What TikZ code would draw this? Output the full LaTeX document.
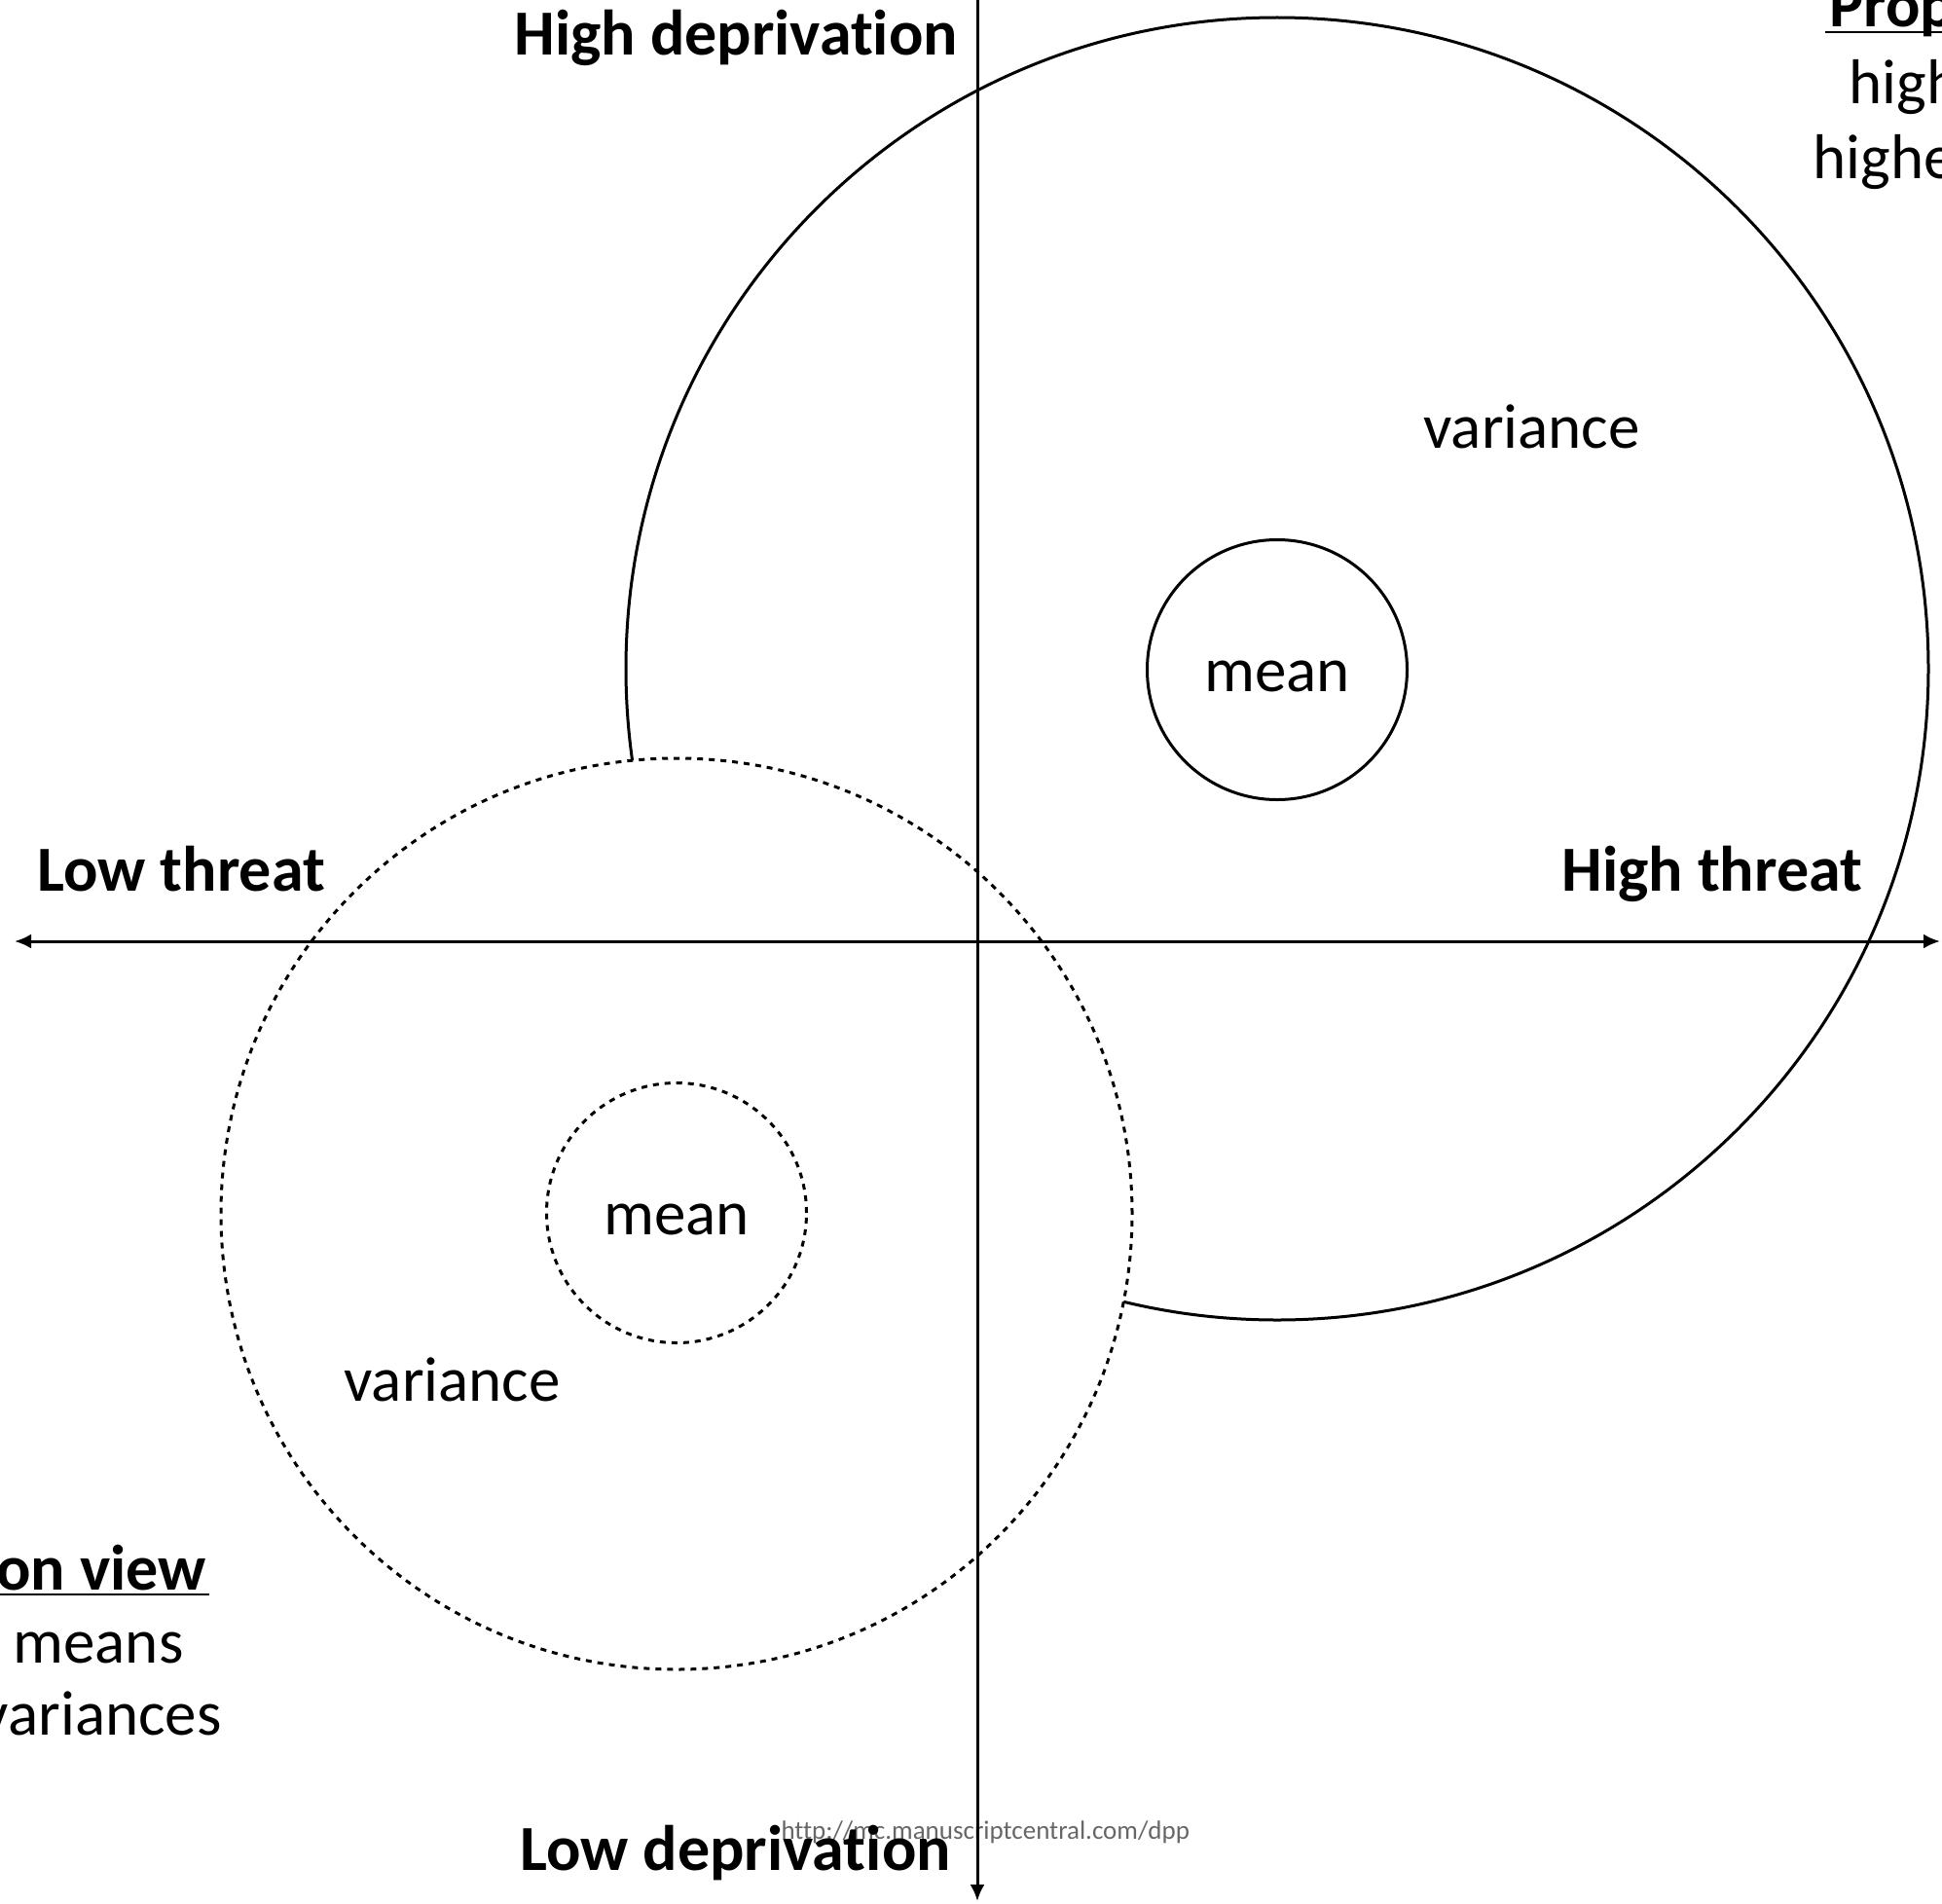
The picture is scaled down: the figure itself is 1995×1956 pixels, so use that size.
\documentclass[tikz,border=0pt]{standalone}
\usepackage{fontspec}
\setmainfont{Carlito}[Ligatures={CommonOff,ContextualOff}, RawFeature=-calt]
\usetikzlibrary{arrows.meta}

\begin{document}
\begin{tikzpicture}[x=1pt, y=-1pt, line width=3pt,
        >={Latex[length=17pt,width=15pt]},
        lbl/.style={anchor=base west, inner sep=0pt, font=\fontsize{65}{78}\selectfont},
        axlbl/.style={lbl, font=\fontsize{66}{79}\selectfont\bfseries},
        ring/.style={circle, draw, inner sep=0pt},
        dots/.style={dash pattern=on 6pt off 6pt}]
        \useasboundingbox (0,0) rectangle (1995,1956);
        \clip (0,0) rectangle (1995,1956);

        % proposed view
        \node[ring, minimum size=1338pt] (bigvar) at (1312,687) {};
        \node[ring, minimum size=267pt] (bigmean) at (1312,688) {};
        % conventional view
        \node[ring, dots, fill=white, minimum size=936pt] (smallvar) at (695,1247) {};
        \node[ring, dots, minimum size=267pt] (smallmean) at (695,1246) {};

        % url
        \node[anchor=base west, inner sep=0pt, text=black!60, font=\fontsize{27}{32}\selectfont] (url) at (801,1889) {http://mc.manuscriptcentral.com/dpp};

        % axes
        \coordinate (west) at (15,967);
        \coordinate (east) at (1993,967);
        \coordinate (north) at (1004,0);
        \coordinate (south) at (1004,1953);
        \draw[<->] (west) -- (east);
        \draw[->] (north) -- (south);

        % axis labels
        \node[axlbl] (hidep) at (527,57) {High deprivation};
        \node[axlbl] (lodep) at (533,1921) {Low deprivation};
        \node[axlbl] (lothr) at (37,915) {Low threat};
        \node[axlbl] (hithr) at (1603,915) {High threat};

        % circle labels
        \node[lbl] (bigvartxt) at (1461,460) {variance};
        \node[lbl, anchor=base] (bigmeantxt) at (1312,710) {mean};
        \node[lbl] (smallvartxt) at (352,1439) {variance};
        \node[lbl, anchor=base] (smallmeantxt) at (695,1268) {mean};

        % side notes
        \node[axlbl] (prop) at (1878,28) {Prop};
        \draw[line width=2pt] ([xshift=-3pt,yshift=-5pt]prop.base west) -- ([yshift=-5pt]prop.base east);
        \node[lbl] (propa) at (1898,107) {high};
        \node[lbl] (propb) at (1861,183) {highe};
        \node[axlbl, anchor=base east] (conv) at (213,1633) {on view};
        \draw[line width=2pt] ([yshift=-5pt]conv.base west) -- ([xshift=2pt,yshift=-5pt]conv.base east);
        \node[lbl, anchor=base east] (conva) at (190,1708) {means};
        \node[lbl, anchor=base east] (convb) at (229,1782) {variances};
    \end{tikzpicture}
\end{document}
